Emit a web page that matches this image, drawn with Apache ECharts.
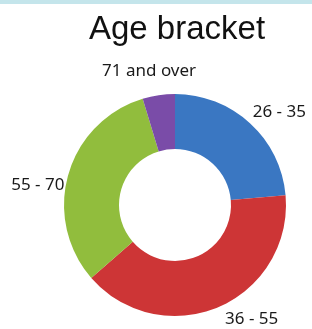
<!DOCTYPE html>
<html>
<head>
<meta charset="utf-8">
<script src="https://cdn.jsdelivr.net/npm/echarts@6/dist/echarts.min.js"></script>
<style>
html,body{margin:0;padding:0;background:#fff;}
#chart{width:312px;height:329px;}
</style>
</head>
<body>
<div id="chart"></div>
<script>
const titleText = 'Age bracket';
const categories = ['26 - 35', '36 - 55', '55 - 70', '71 and over'];
const values = [23.6, 40.0, 31.7, 4.7];
const colors = ['#3a77c2', '#cd3536', '#91bd3d', '#7a4ca8'];
// label alignment tweaks (style only)
const labelTweaks = [
  {align: 'left', verticalAlign: 'bottom', dx: 0, dy: 0},
  {align: 'left', verticalAlign: 'top', dx: 5, dy: 0},
  {align: 'right', verticalAlign: 'top', dx: 0, dy: 3},
  {align: 'center', verticalAlign: 'bottom', dx: -9, dy: -12}
];

const chart = echarts.init(document.getElementById('chart'), null, {renderer: 'canvas'});
chart.setOption({
  backgroundColor: '#ffffff',
  animation: false,
  graphic: [{
    type: 'rect', left: 0, top: 0, shape: {width: 312, height: 4},
    style: {fill: '#c4e5eb'}, silent: true
  }],
  title: {
    text: titleText,
    left: 172, top: 8, textAlign: 'center',
    textStyle: {fontFamily: 'Liberation Sans', fontSize: 33, fontWeight: 'normal', color: '#111'}
  },
  series: [{
    type: 'pie',
    center: [175, 205],
    radius: [56, 111],
    startAngle: 90,
    clockwise: true,
    avoidLabelOverlap: false,
    itemStyle: {borderWidth: 0},
    label: {
      show: true, position: 'outside', alignTo: 'none',
      fontFamily: 'Noto Sans', fontSize: 17, color: '#1a1a1a',
      formatter: '{b}', distanceToLabelLine: 0
    },
    labelLine: {show: false, length: 4, length2: 0},
    labelLayout: function (p) { return labelTweaks[p.dataIndex]; },
    emphasis: {disabled: true},
    data: categories.map((c, i) => ({name: c, value: values[i], itemStyle: {color: colors[i]}}))
  }]
});
</script>
</body>
</html>
